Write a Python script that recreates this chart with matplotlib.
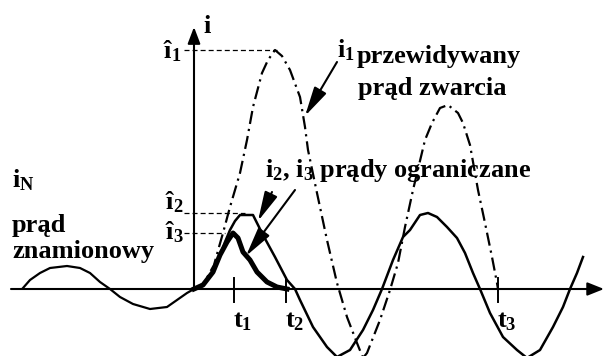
import matplotlib
matplotlib.use("Agg")
import matplotlib.pyplot as plt

plt.rcParams['font.family'] = 'Liberation Serif'
plt.rcParams['font.weight'] = 'bold'
plt.rcParams['mathtext.fontset'] = 'custom'
plt.rcParams['mathtext.rm'] = 'Liberation Serif'
plt.rcParams['mathtext.default'] = 'rm'
plt.rcParams['lines.scale_dashes'] = False

# rated current before the fault
iN_t = [-171, -164, -154, -144, -127, -114, -104, -94, -84, -74, -61, -44, -27, -17, -7, 0]
iN_v = [1, 9, 16, 21, 23, 21, 16, 7, 0, -8, -15, -20, -18, -11, -4, 0]

# prospective short-circuit current (dash-dot)
i1_t = [0, 10, 20, 25, 29, 36, 46, 53, 59, 68, 74, 81, 88, 96, 106, 111, 114, 123, 133,
        143, 153, 163, 169, 173, 186, 196, 204, 211, 219, 231, 238, 246, 254, 264, 269,
        276, 284, 291, 298, 303, 304]
i1_v = [0, 6, 24, 42, 56, 82, 116, 149, 182, 216, 229, 239, 233, 219, 192, 162, 139, 96, 49,
        6, -28, -54, -69, -64, -31, -1, 26, 62, 99, 149, 166, 181, 184, 176, 166,
        144, 99, 66, 32, 6, 0]

# limited currents
i2_t = [0, 9, 19, 26, 31, 36, 41, 46, 59, 69, 81, 93, 101, 106, 119, 133, 143, 156, 169,
        179, 188, 199, 209, 216, 226, 234, 243, 253, 263, 271, 279, 286, 296, 309, 323,
        333, 346, 359, 369, 376, 383, 389]
i2_v = [0, 4, 17, 34, 47, 59, 68, 74, 74, 54, 32, 9, 0, -11, -38, -58, -68, -61, -41,
        -21, 0, 29, 52, 59, 74, 76, 72, 62, 51, 36, 16, 0, -24, -48, -61,
        -69, -61, -38, -18, 0, 16, 32]
i3_t = [0, 9, 19, 26, 33, 39, 44, 49, 56, 63, 73, 83, 93]
i3_v = [0, 4, 17, 34, 47, 56, 51, 37, 29, 17, 7, 2, 0]

t_ticks = [40, 92, 304]
t_labels = ['t$_1$', 't$_2$', 't$_3$']

fig = plt.figure(figsize=(6.04, 3.56), dpi=100)
ax = fig.add_axes([0, 0, 1, 1])
ax.set_xlim(-194, 410)
ax.set_ylim(-67, 289)
ax.axis('off')

# curves
ax.plot(i1_t, i1_v, color='k', lw=1.6, linestyle=(0, (9.5, 3.6, 1.6, 3.6)))
ax.plot(iN_t, iN_v, color='k', lw=1.6)
ax.plot(i2_t, i2_v, color='k', lw=1.8)
ax.plot(i3_t, i3_v, color='k', lw=3.6, solid_joinstyle='round')

# peak markers
peaks = [(max(i1_v), 83), (max(i2_v), 51), (max(i3_v), 31)]
for val, end in peaks:
    ax.plot([-10, end], [val, val], color='k', lw=0.9, linestyle=(0, (3.6, 2.2)))

# axes with arrows
ax.annotate('', xy=(410, 0), xytext=(-183, 0),
            arrowprops=dict(arrowstyle='-|>,head_length=1.0,head_width=0.4',
                            mutation_scale=10, lw=1.5, color='k', shrinkA=0, shrinkB=0))
ax.annotate('', xy=(0, 262), xytext=(0, 0),
            arrowprops=dict(arrowstyle='-|>,head_length=1.0,head_width=0.38',
                            mutation_scale=10, lw=1.5, color='k', shrinkA=0, shrinkB=0))

fs = 19
for t, lab in zip(t_ticks, t_labels):
    ax.plot([t, t], [-13, 11], color='k', lw=1.4)
    ax.text(t - 1, -38, lab, fontsize=fs, ha='left', va='baseline')

ax.text(9, 256, 'i', fontsize=fs, va='baseline')
ax.text(-31, 231, 'î$_1$', fontsize=fs, va='baseline')
ax.text(-29, 80, 'î$_2$', fontsize=fs, va='baseline')
ax.text(-29, 50, 'î$_3$', fontsize=fs, va='baseline')

ax.text(-182, 102, 'i$_N$', fontsize=fs, va='baseline')
ax.text(-182, 57, 'prąd', fontsize=fs, va='baseline')
ax.text(-182, 31, 'znamionowy', fontsize=fs, va='baseline')

ax.text(143, 232, 'i$_1$', fontsize=fs, va='baseline')
ax.text(163, 226, 'przewidywany', fontsize=fs, va='baseline')
ax.text(164, 194, 'prąd zwarcia', fontsize=fs, va='baseline')
ax.text(71, 112, 'i$_2$, i$_3$ prądy ograniczane', fontsize=fs, va='baseline')

arrow_style = dict(arrowstyle='-|>,head_length=1.8,head_width=0.42',
                   mutation_scale=10, lw=1.5, color='k', shrinkA=0, shrinkB=0)
ax.annotate('', xy=(111, 173), xytext=(143, 227), arrowprops=arrow_style)
ax.annotate('', xy=(64, 68), xytext=(78, 97), arrowprops=arrow_style)
ax.annotate('', xy=(52, 33), xytext=(101, 99), arrowprops=arrow_style)

fig.savefig('out.png', dpi=100)
